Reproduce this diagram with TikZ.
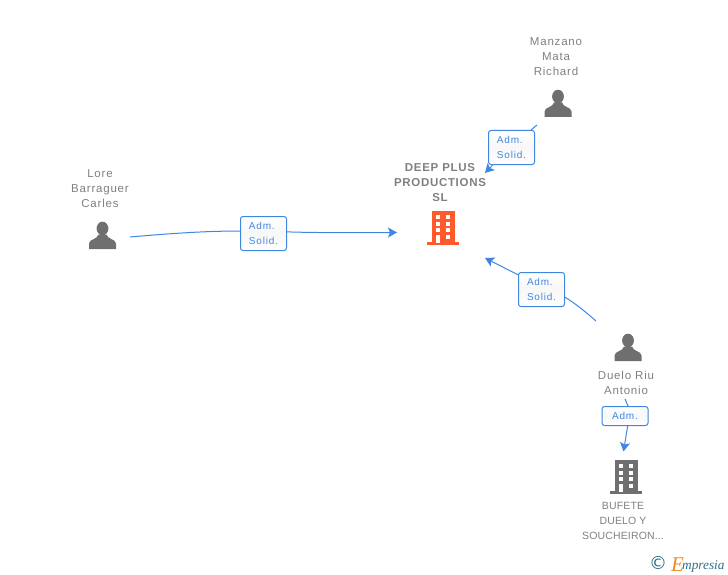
\documentclass[tikz,border=0pt]{standalone}
\usepackage{fontspec}
\setmainfont{Liberation Sans}
\newfontfamily\logofont{Liberation Serif}
\newfontfamily\symbfont{DejaVu Sans}
\usetikzlibrary{arrows.meta}
\definecolor{linkblue}{HTML}{3F86E3}
\definecolor{txtgrey}{HTML}{808080}
\definecolor{icongrey}{HTML}{6F6F6F}
\definecolor{towerred}{HTML}{FF5A2B}
\definecolor{logoteal}{HTML}{2F6F86}
\definecolor{logoorange}{HTML}{F08A24}
\tikzset{
  holder/.style={text=txtgrey,align=center,inner sep=0,font=\addfontfeature{LetterSpace=7}\fontsize{11.5}{15}\selectfont},
  firm/.style={holder,font=\fontsize{11.5}{15}\selectfont\bfseries\addfontfeature{LetterSpace=6}},
  subfirm/.style={holder,font=\addfontfeature{LetterSpace=1.5}\fontsize{10.5}{15}\selectfont},
  role/.style={draw=linkblue,line width=1pt,rounded corners=2.5pt,top color=white,bottom color=white,middle color=black!3,
    text=linkblue,align=left,inner sep=0,minimum width=46pt,font=\addfontfeature{LetterSpace=8}\fontsize{10}{15}\selectfont},
  link/.style={draw=linkblue,line width=1pt},
  linkto/.style={link,-{Stealth[length=9pt,width=10pt,inset=2pt]}},
  personicon/.pic={
    \fill[icongrey] (0,-7) ellipse (5.9 and 6.8);
    \fill[icongrey] (-13.5,13.5) -- (-13.5,8) .. controls (-13.5,3.5) and (-5,4) .. (-4,-1)
      -- (4,-1) .. controls (5,4) and (13.5,3.5) .. (13.5,8) -- (13.5,13.5) -- cycle;
  },
  towericon/.pic={
    \fill[pic actions] (-16,17) rectangle (16,14);
    \fill[pic actions] (-11.5,-17) rectangle (11.5,15);
    \foreach \y in {-13,-6.3,0.3,7}
      \foreach \x in {-7.3,2.7}
        \fill[white] (\x,\y) rectangle +(4.6,4);
    \fill[white] (-7,7) rectangle (-3,15);
  }
}
\begin{document}
\begin{tikzpicture}[x=1pt,y=-1pt]
  \useasboundingbox (0,0) rectangle (728,575);
  \pic at (102.5,235.5) {personicon};
  \pic at (558,103.5) {personicon};
  \pic at (628,347.5) {personicon};
  \pic[fill=towerred] at (443,228) {towericon};
  \pic[fill=icongrey] at (626,477) {towericon};

  \node[holder] (lore) at (100,188.7) {Lore\\Barraguer\\Carles};
  \node[holder] (manzano) at (556,56.7) {Manzano\\Mata\\Richard};
  \node[holder] (duelo) at (626,382.5) {Duelo Riu\\Antonio};
  \node[firm] (deep) at (440,182.5) {DEEP PLUS\\PRODUCTIONS\\SL};
  \node[subfirm] (bufete) at (623,521) {BUFETE\\DUELO Y\\SOUCHEIRON...};

  \node[role,minimum height=34pt] (admlore) at (263.5,233.5) {Adm.\\Solid.};
  \node[role,minimum height=34pt] (admmanzano) at (511.5,147.5) {Adm.\\Solid.};
  \node[role,minimum height=34pt] (admduelo) at (541.5,289.5) {Adm.\\Solid.};
  \node[role,minimum height=19pt] (admbufete) at (625,416) {Adm.};

  \coordinate (loreout) at (130,237);
  \coordinate (deepwest) at (397,232.5);
  \coordinate (manzanoout) at (537,125);
  \coordinate (deepnorth) at (485,173);
  \coordinate (dueloout) at (596,321);
  \coordinate (deepsouth) at (485,258);
  \coordinate (dueloin) at (625,399);
  \coordinate (bufetein) at (623.5,451.5);

  \draw[link] (loreout) .. controls (170,233.5) and (205,231) .. (admlore.174);
  \draw[linkto] (admlore.4) .. controls (320,233) and (360,232.5) .. (deepwest);
  \draw[link] (manzanoout) -- (admmanzano.42);
  \draw[linkto] (admmanzano.223) -- (deepnorth);
  \draw[link] (dueloout) .. controls (587,313) and (576,304) .. (admduelo.-18);
  \draw[linkto] (admduelo.148) -- (deepsouth);
  \draw[link] (dueloin) -- (admbufete.73);
  \draw[linkto] (admbufete.-75) -- (bufetein);

  \node[inner sep=0,text=logoteal,font=\symbfont\fontsize{18}{18}\selectfont] (copyr) at (658,563) {©};
  \node[inner sep=0,anchor=base west,font=\logofont\itshape\fontsize{21}{21}\selectfont,text=logoorange] (logoe) at (671,571) {E};
  \node[inner sep=0,anchor=base west,font=\logofont\itshape\fontsize{13.3}{14}\selectfont,text=logoteal] (logotxt) at (682,569) {mpresia};
\end{tikzpicture}
\end{document}
